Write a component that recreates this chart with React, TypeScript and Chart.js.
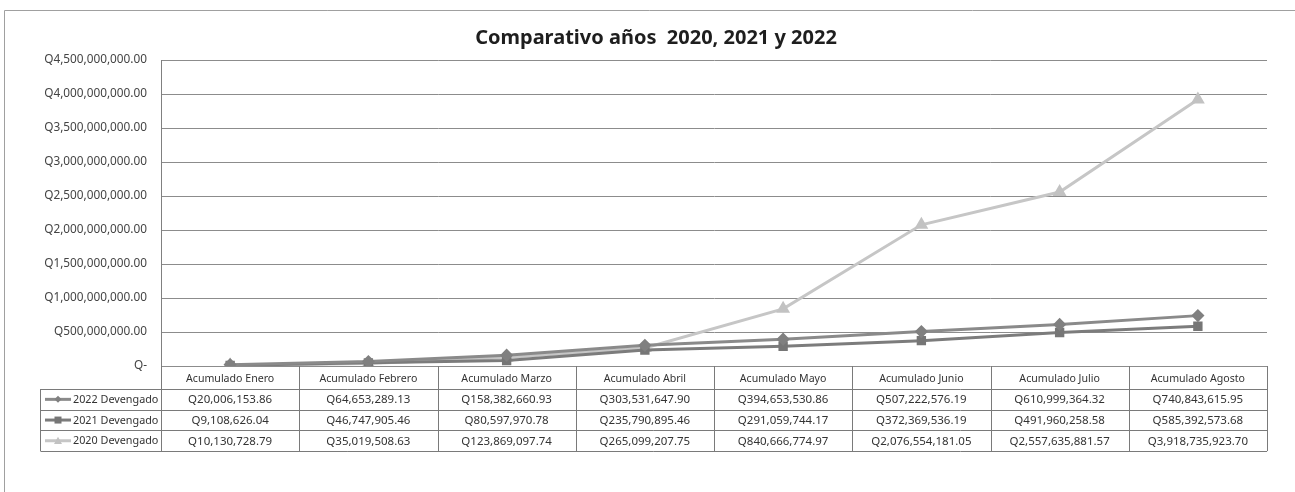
import { useEffect, useRef } from 'react';
import { Chart, registerables } from 'chart.js';

Chart.register(...registerables);

const W = 1295;
const H = 492;

const chartTitle = 'Comparativo años  2020, 2021 y 2022';
const categories = [
  'Acumulado Enero',
  'Acumulado Febrero',
  'Acumulado Marzo',
  'Acumulado Abril',
  'Acumulado Mayo',
  'Acumulado Junio',
  'Acumulado Julio',
  'Acumulado Agosto',
];
const seriesNames = ['2022 Devengado', '2021 Devengado', '2020 Devengado'];
const values2022 = [20006153.86, 64653289.13, 158382660.93, 303531647.9, 394653530.86, 507222576.19, 610999364.32, 740843615.95];
const values2021 = [9108626.04, 46747905.46, 80597970.78, 235790895.46, 291059744.17, 372369536.19, 491960258.58, 585392573.68];
const values2020 = [10130728.79, 35019508.63, 123869097.74, 265099207.75, 840666774.97, 2076554181.05, 2557635881.57, 3918735923.7];
const yMin = 0;
const yMax = 4500000000;
const yStep = 500000000;

const allValues = [values2022, values2021, values2020];
const lineColors = ['#8a8a8a', '#7c7c7c', '#c6c6c6'];
const pointColors = ['#808080', '#767676', '#c2c2c2'];
const pointStyles = ['rectRot', 'rect', 'triangle'];

const fmtQ = (v: number) =>
  v === 0 ? 'Q-' : 'Q' + v.toLocaleString('en-US', { minimumFractionDigits: 2, maximumFractionDigits: 2 });

const FONT = '"Noto Sans", "Open Sans", sans-serif';

function drawMarker(ctx: CanvasRenderingContext2D, style: string, x: number, y: number, r: number) {
  ctx.beginPath();
  if (style === 'rectRot') {
    ctx.moveTo(x, y - r);
    ctx.lineTo(x + r, y);
    ctx.lineTo(x, y + r);
    ctx.lineTo(x - r, y);
    ctx.closePath();
  } else if (style === 'rect') {
    ctx.rect(x - r, y - r, 2 * r, 2 * r);
  } else {
    ctx.moveTo(x, y - r);
    ctx.lineTo(x + r, y + r * 0.8);
    ctx.lineTo(x - r, y + r * 0.8);
    ctx.closePath();
  }
  ctx.fill();
}

const tablePlugin = {
  id: 'excelTable',
  afterDraw(chart: any) {
    const ctx: CanvasRenderingContext2D = chart.ctx;
    const area = chart.chartArea;
    const xs = chart.scales.x;
    const n = categories.length;
    const colW = (area.right - area.left) / n;
    const top = area.bottom;
    const headerH = 23;
    const rowH = 20.7;
    const rowsTop = top + headerH;
    const bottom = rowsTop + rowH * seriesNames.length;
    const tableLeft = 40.5;

    ctx.save();
    // outer frame
    ctx.strokeStyle = '#a0a0a0';
    ctx.lineWidth = 1;
    ctx.beginPath();
    ctx.moveTo(4.5, H);
    ctx.lineTo(4.5, 10.5);
    ctx.lineTo(W, 10.5);
    ctx.stroke();

    // title
    ctx.fillStyle = '#1e1e1e';
    ctx.font = 'bold 20px ' + FONT;
    ctx.textAlign = 'center';
    ctx.textBaseline = 'middle';
    ctx.fillText(chartTitle, 656, 38);

    // table grid
    ctx.strokeStyle = '#7a7a7a';
    ctx.lineWidth = 1;
    ctx.beginPath();
    for (let r = 0; r <= seriesNames.length; r++) {
      const y = Math.round(rowsTop + r * rowH) + 0.5;
      ctx.moveTo(tableLeft, y);
      ctx.lineTo(area.right, y);
    }
    ctx.moveTo(tableLeft, rowsTop);
    ctx.lineTo(tableLeft, bottom);
    for (let i = 0; i <= n; i++) {
      const cx = i < n ? xs.getPixelForValue(i) - colW / 2 : xs.getPixelForValue(n - 1) + colW / 2;
      const x = Math.round(cx) + 0.5;
      ctx.moveTo(x, top);
      ctx.lineTo(x, bottom);
    }
    ctx.stroke();

    // header texts
    ctx.fillStyle = '#333';
    ctx.font = '10.6px ' + FONT;
    ctx.textAlign = 'center';
    ctx.textBaseline = 'middle';
    categories.forEach((c, i) => {
      ctx.fillText(c, xs.getPixelForValue(i), top + headerH / 2 + 1);
    });

    // rows
    seriesNames.forEach((name, r) => {
      const cy = rowsTop + r * rowH + rowH / 2;
      // legend key
      ctx.strokeStyle = lineColors[r];
      ctx.lineWidth = 3;
      ctx.beginPath();
      ctx.moveTo(45, cy);
      ctx.lineTo(71, cy);
      ctx.stroke();
      ctx.fillStyle = pointColors[r];
      drawMarker(ctx, pointStyles[r], 58, cy, r === 2 ? 4 : 3.5);
      ctx.fillStyle = '#333';
      ctx.font = '10.8px ' + FONT;
      ctx.textAlign = 'left';
      ctx.fillText(name, 73, cy + 0.5);
      ctx.textAlign = 'center';
      ctx.font = '11.5px ' + FONT;
      allValues[r].forEach((v, i) => {
        ctx.fillText(fmtQ(v), xs.getPixelForValue(i), cy + 0.5);
      });
    });
    ctx.restore();
  },
};

export default function App() {
  const ref = useRef<HTMLCanvasElement | null>(null);

  useEffect(() => {
    document.body.style.margin = '0';
    const canvas = ref.current;
    if (!canvas) return;
    const chart = new Chart(canvas, {
      type: 'line',
      data: {
        labels: categories,
        datasets: seriesNames.map((name, r) => ({
          label: name,
          data: allValues[r],
          borderColor: lineColors[r],
          backgroundColor: pointColors[r],
          pointBackgroundColor: pointColors[r],
          pointBorderColor: pointColors[r],
          borderWidth: 3,
          pointStyle: pointStyles[r] as any,
          pointRadius: r === 2 ? 5 : 4.5,
          tension: 0,
          fill: false,
        })),
      },
      options: {
        responsive: false,
        animation: false,
        devicePixelRatio: 1,
        layout: { padding: { top: 60, right: 28, bottom: 126, left: 0 } },
        plugins: {
          legend: { display: false },
          title: { display: false },
          tooltip: { enabled: false },
        },
        scales: {
          x: {
            type: 'category',
            offset: true,
            display: false,
          },
          y: {
            min: yMin,
            max: yMax,
            ticks: {
              stepSize: yStep,
              padding: 14,
              color: '#444',
              font: { family: FONT, size: 11.8 },
              callback: (v: any) => fmtQ(Number(v)),
            },
            grid: { color: '#8c8c8c', lineWidth: 1, drawTicks: false },
            border: { display: true, color: '#808080' },
            afterFit: (s: any) => {
              s.width = 161;
            },
          },
        },
      },
      plugins: [tablePlugin],
    });
    return () => chart.destroy();
  }, []);

  return (
    <div style={{ width: W, height: H, background: '#fff' }}>
      <canvas ref={ref} width={W} height={H} style={{ display: 'block' }} />
    </div>
  );
}
